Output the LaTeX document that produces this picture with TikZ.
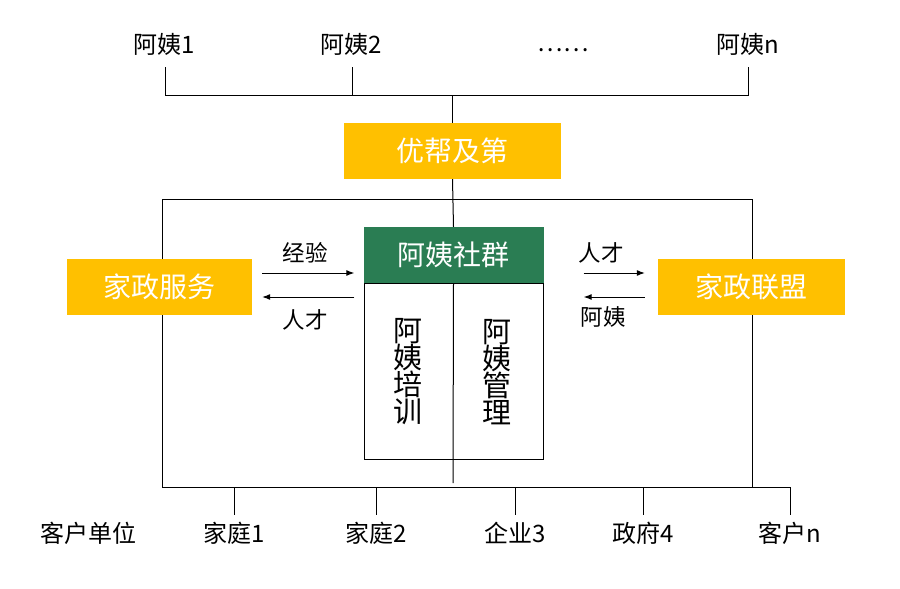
\documentclass[tikz,border=0pt]{standalone}
\usepackage{fontspec}
\setmainfont{Noto Sans CJK SC}
\usetikzlibrary{arrows.meta}
\definecolor{gold}{HTML}{FFC000}
\definecolor{grn}{HTML}{2A7D53}
\tikzset{
  lbl/.style={inner sep=0pt,text height=17pt,text depth=5pt,font=\fontsize{24pt}{28pt}\selectfont},
  albl/.style={inner sep=0pt,font=\fontsize{22.5pt}{26pt}\selectfont},
  ybox/.style={fill=gold,text=white,inner sep=0pt,font=\fontsize{28pt}{31pt}\selectfont},
  gbox/.style={fill=grn,text=white,inner sep=0pt,font=\fontsize{28pt}{31pt}\selectfont},
  vtext/.style={inner sep=0pt,align=center,font=\fontsize{29pt}{27pt}\selectfont},
  ln/.style={line width=1pt,black},
  arr/.style={line width=1pt,-{Latex[length=8pt,width=6pt]}},
}
\begin{document}
\begin{tikzpicture}[x=1pt,y=-1pt]
\useasboundingbox (0,0) rectangle (900,589);
% top labels
\node[lbl] (a1) at (164,47) {阿姨1};
\node[lbl] (a2) at (351,47) {阿姨2};
\node[lbl] (dots) at (563,45) {……};
\node[lbl] (an) at (748,47) {阿姨n};
\coordinate (busL) at (165,95);
\coordinate (busR) at (748,95);
\draw[ln] ([yshift=-9pt]a1.south -| busL) -- (busL) -- (busR) -- ([yshift=-9pt]an.south);
\draw[ln] ([xshift=1pt,yshift=-9pt]a2.south) -- ([xshift=1pt]a2.south |- busL);
% frame
\coordinate (fTL) at (162,199);
\coordinate (fTR) at (752,199);
\coordinate (fBL) at (162,487);
\coordinate (fBR) at (752,487);
\draw[ln] (fTL) -- (fTR) -- (fBR) -- (fBL) -- cycle;
% boxes
\node[ybox,minimum width=217,minimum height=56] (ybjd) at (452.5,151) {优帮及第};
\node[gbox,minimum width=180,minimum height=56] (qun) at (453.5,255) {阿姨社群};
\node[draw,line width=1pt,minimum width=179,minimum height=176,inner sep=0pt] (low) at (453.5,371) {};
\node[ybox,minimum width=185,minimum height=56] (jz) at (159.5,287) {家政服务};
\node[ybox,minimum width=187,minimum height=56] (lm) at (751.5,287) {家政联盟};
\draw[ln] (ybjd.north) -- (ybjd.north |- busL);
\draw[ln] (ybjd.south) -- (qun.north);
\coordinate (dv) at (453,483);
\draw[ln] (qun.south) -- (dv);
% vertical texts
\node[vtext] (px) at (408,372) {阿\\姨\\培\\训};
\node[vtext] (gl) at (497,372) {阿\\姨\\管\\理};
% arrows
\draw[arr] ([xshift=10pt,yshift=14pt]jz.east) -- ([xshift=-9pt,yshift=-18pt]qun.west);
\draw[arr] ([xshift=-9pt,yshift=-42pt]qun.west) -- ([xshift=10pt,yshift=-10pt]jz.east);
\draw[arr] ([xshift=40pt,yshift=-18pt]qun.east) -- ([xshift=-13pt,yshift=14pt]lm.west);
\draw[arr] ([xshift=-13pt,yshift=-10pt]lm.west) -- ([xshift=40pt,yshift=-42pt]qun.east);
\node[albl] (t1) at (305,253) {经验};
\node[albl] (t2) at (305,320) {人才};
\node[albl] (t3) at (601,253) {人才};
\node[albl] (t4) at (603,317) {阿姨};
% bottom labels
\node[lbl] (c0) at (88,536) {客户单位};
\node[lbl] (c1) at (234,536) {家庭1};
\node[lbl] (c2) at (376,536) {家庭2};
\node[lbl] (c3) at (515,536) {企业3};
\node[lbl] (c4) at (643,536) {政府4};
\node[lbl] (cn) at (790,536) {客户n};
\coordinate (bR) at (790,487);
\draw[ln] (fBR) -- (bR) -- ([yshift=10pt]cn.north);
\foreach \c in {c1,c2,c3,c4}{
  \draw[ln] ([yshift=10pt]\c.north) -- (\c.north |- fBL);
}
\end{tikzpicture}
\end{document}
